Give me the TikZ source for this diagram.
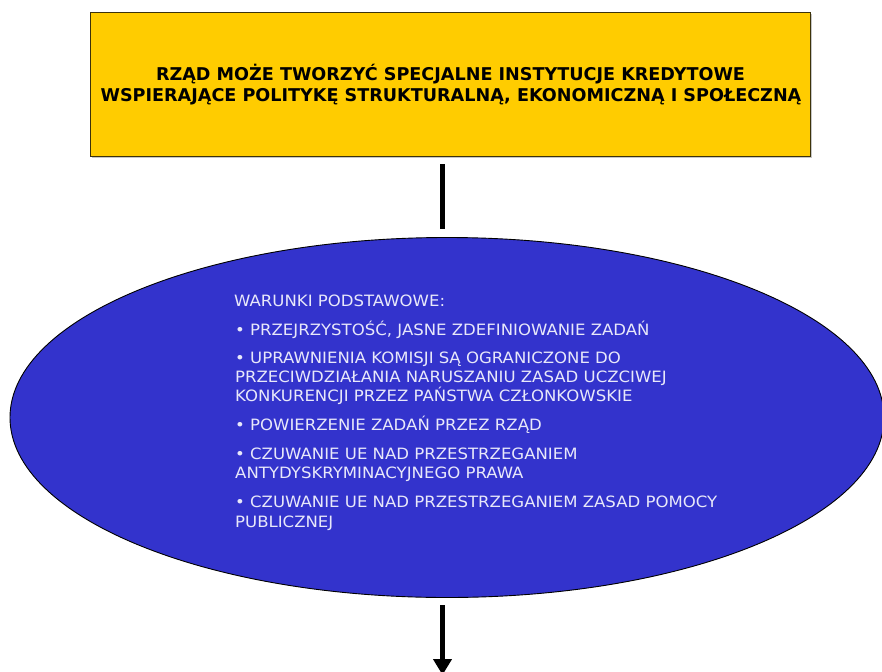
\documentclass[tikz,border=0pt]{standalone}
\usepackage{fontspec}
\setmainfont{DejaVu Sans}
\newfontfamily\ovalfont[FakeStretch=1.06]{DejaVu Sans}
\usetikzlibrary{arrows.meta,shapes.geometric}
\definecolor{boxyellow}{RGB}{255,204,0}
\definecolor{boxedge}{RGB}{60,50,10}
\definecolor{ovalblue}{RGB}{51,51,204}
\definecolor{ovaltext}{RGB}{232,232,250}
\tikzset{
  titlebox/.style={draw=boxedge, line width=1pt, fill=boxyellow,
    minimum width=720pt, minimum height=144pt, inner sep=0pt},
  oval/.style={ellipse, draw=black, line width=0.9pt, fill=ovalblue,
    minimum width=874pt, minimum height=360pt, inner sep=0pt},
  titleline/.style={anchor=base, inner sep=0pt,
    font=\fontsize{17.6}{21}\selectfont\bfseries},
  ovalline/.style={anchor=base west, inner sep=0pt, text=ovaltext,
    font=\ovalfont\fontsize{15.6}{19}\selectfont},
  bar/.style={line width=5pt},
  arrowbar/.style={line width=5pt, -{Triangle[width=18pt,length=16pt]}}
}
\begin{document}
\begin{tikzpicture}[x=1pt,y=-1pt]
  \useasboundingbox (0,0) rectangle (882,671);
  % title box with a faint drop shadow
  \fill[gray!45] (92,14) rectangle (812,158.5);
  \node[titlebox] (box) at (450.4,84.5) {};
  \node[titleline] (t1) at (450.5,81) {RZĄD MOŻE TWORZYĆ SPECJALNE INSTYTUCJE KREDYTOWE};
  \node[titleline] (t2) at (451,102) {WSPIERAJĄCE POLITYKĘ STRUKTURALNĄ, EKONOMICZNĄ I SPOŁECZNĄ};

  % conditions oval
  \node[oval] (ell) at (447,417.5) {};
  \node[ovalline] (w0) at (234,306.7) {WARUNKI PODSTAWOWE:};
  \node[ovalline] (w1) at (235,335) {• PRZEJRZYSTOŚĆ, JASNE ZDEFINIOWANIE ZADAŃ};
  \node[ovalline] (w2a) at (235,363.3) {• UPRAWNIENIA KOMISJI SĄ OGRANICZONE DO};
  \node[ovalline] (w2b) at (235,382.5) {PRZECIWDZIAŁANIA NARUSZANIU ZASAD UCZCIWEJ};
  \node[ovalline] (w2c) at (235,401.7) {KONKURENCJI PRZEZ PAŃSTWA CZŁONKOWSKIE};
  \node[ovalline] (w3) at (235,430) {• POWIERZENIE ZADAŃ PRZEZ RZĄD};
  \node[ovalline] (w4a) at (235,459) {• CZUWANIE UE NAD PRZESTRZEGANIEM};
  \node[ovalline] (w4b) at (235,478) {ANTYDYSKRYMINACYJNEGO PRAWA};
  \node[ovalline] (w5a) at (235,507.3) {• CZUWANIE UE NAD PRZESTRZEGANIEM ZASAD POMOCY};
  \node[ovalline] (w5b) at (235,527.3) {PUBLICZNEJ};

  % connectors
  \coordinate (xline) at (442.5,0);
  \coordinate (down) at (442.5,675);
  \draw[bar] ([yshift=-7.3pt]box.south -| xline) -- ([yshift=8.5pt]ell.north -| xline);
  \draw[arrowbar] ([yshift=-7.5pt]ell.south -| xline) -- (down);
\end{tikzpicture}
\end{document}
